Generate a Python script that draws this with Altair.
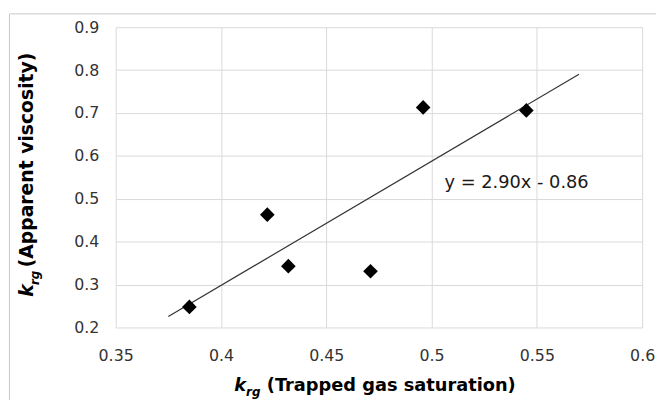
import altair as alt
import pandas as pd

# Data
x_vals = [0.385, 0.422, 0.432, 0.471, 0.496, 0.545]
y_vals = [0.248, 0.463, 0.343, 0.331, 0.713, 0.706]
x_ticks = [0.35, 0.4, 0.45, 0.5, 0.55, 0.6]
y_ticks = [0.2, 0.3, 0.4, 0.5, 0.6, 0.7, 0.8, 0.9]
trend_extent = [0.375, 0.57]
equation = "y = 2.90x - 0.86"
sym = "k"
sub = "rg"
x_title_main = "(Trapped gas saturation)"
y_title_main = "(Apparent viscosity)"

df = pd.DataFrame({"x": x_vals, "y": y_vals})

FONT = "DejaVu Sans"
GRID = "#d9d9d9"

xs = alt.Scale(domain=[0.35, 0.6], nice=False, zero=False)
ys = alt.Scale(domain=[0.2, 0.9], nice=False, zero=False)

x_axis = alt.Axis(values=x_ticks, format=".2~f", title=None, grid=True, gridColor=GRID,
                  domain=False, ticks=False, labelFont=FONT, labelFontSize=16,
                  labelColor="#333333", labelPadding=20, labelFlush=False)
y_axis = alt.Axis(values=y_ticks, format=".1f", title=None, grid=True, gridColor=GRID,
                  domain=False, ticks=False, labelFont=FONT, labelFontSize=16,
                  labelColor="#333333", labelPadding=17)

base = alt.Chart(df)

points = base.mark_point(shape="diamond", filled=True, size=220, color="black", opacity=1).encode(
    x=alt.X("x:Q", scale=xs, axis=x_axis),
    y=alt.Y("y:Q", scale=ys, axis=y_axis),
)

trend = base.transform_regression("x", "y", extent=trend_extent).mark_line(
    color="#333333", strokeWidth=1.2
).encode(
    x=alt.X("x:Q", scale=xs, axis=x_axis),
    y=alt.Y("y:Q", scale=ys, axis=y_axis),
)

one = alt.Data(values=[{}])

def txt(text, x, y, size, bold=True, italic=False, angle=0, color="#000000"):
    kw = dict(text=text, font=FONT, fontSize=size, align="left", baseline="alphabetic", color=color)
    if bold:
        kw["fontWeight"] = "bold"
    if italic:
        kw["fontStyle"] = "italic"
    if angle:
        kw["angle"] = angle
    return alt.Chart(one).mark_text(**kw).encode(x=alt.value(x), y=alt.value(y))

eq = txt(equation, 333, 163, 18, bold=False, color="#1a1a1a")

# x-axis title with subscript
xt_k = txt(sym, 120, 368, 18, italic=True)
xt_sub = txt(sub, 132, 373, 12, italic=True)
xt_main = txt(x_title_main, 153, 368, 18)

# y-axis title with subscript (rotated)
yt_k = txt(sym, -84, 273, 19, italic=True, angle=270)
yt_sub = txt(sub, -78, 261, 12, italic=True, angle=270)
yt_main = txt(y_title_main, -84, 243, 19, angle=270)

border = alt.Chart(one).mark_rect(fillOpacity=0, stroke="#c8c8c8", strokeWidth=1).encode(
    x=alt.value(-107.5), x2=alt.value(700), y=alt.value(-13.5), y2=alt.value(600)
)

chart = alt.layer(
    border, trend, points, eq, xt_k, xt_sub, xt_main, yt_k, yt_sub, yt_main
).properties(
    width=533,
    height=304,
    autosize=alt.AutoSizeParams(type="none"),
    padding={"left": 109, "top": 17, "right": 14, "bottom": 71},
).configure_view(stroke="transparent")

chart.save("out.html", embed_options={"renderer": "svg", "actions": False})
